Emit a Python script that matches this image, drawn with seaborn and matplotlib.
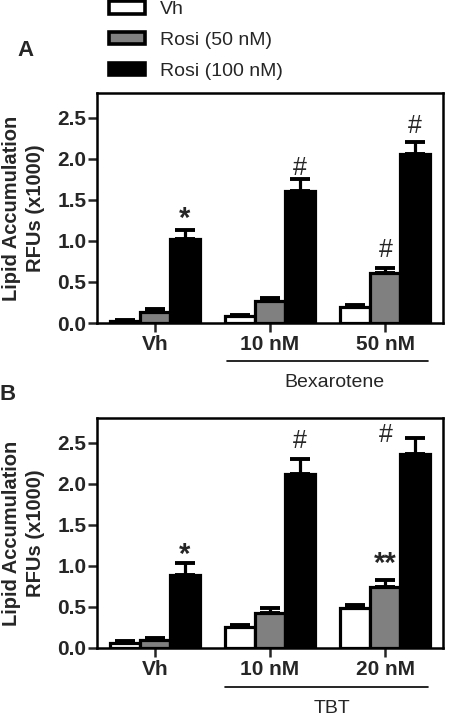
import matplotlib.pyplot as plt
import matplotlib.transforms as mtransforms
import pandas as pd
import seaborn as sns


# Data (RFUs x1000), mean and upper SEM
TREATMENTS = ["Vh", "Rosi (50 nM)", "Rosi (100 nM)"]
COLORS = ["white", "#808080", "black"]

GROUPS_A = ["Vh", "10 nM", "50 nM"]
A_VH = [0.03, 0.08, 0.195]
A_ROSI50 = [0.135, 0.265, 0.61]
A_ROSI100 = [1.02, 1.61, 2.06]
A_VH_ERR = [0.005, 0.02, 0.025]
A_ROSI50_ERR = [0.03, 0.045, 0.06]
A_ROSI100_ERR = [0.11, 0.14, 0.14]

GROUPS_B = ["Vh", "10 nM", "20 nM"]
B_VH = [0.06, 0.255, 0.486]
B_ROSI50 = [0.10, 0.425, 0.74]
B_ROSI100 = [0.89, 2.115, 2.36]
B_VH_ERR = [0.03, 0.02, 0.035]
B_ROSI50_ERR = [0.02, 0.06, 0.09]
B_ROSI100_ERR = [0.14, 0.185, 0.20]

# significance marks: (group index, treatment index, text, baseline y)
MARKS_A = [(0, 2, "*", 1.17), (1, 2, "#", 1.80), (2, 1, "#", 0.80), (2, 2, "#", 2.31)]
MARKS_B = [(0, 2, "*", 1.03), (1, 2, "#", 2.43), (2, 1, "**", 0.92), (2, 1, "#", 2.51)]

YTICKS = [0.0, 0.5, 1.0, 1.5, 2.0, 2.5]
YLABEL = "Lipid Accumulation\nRFUs (x1000)"


sns.set_style("ticks")
plt.rcParams["font.family"] = ["Liberation Sans", "DejaVu Sans"]


def make_frame(groups, series):
    rows = []
    for treat, values in zip(TREATMENTS, series):
        for grp, val in zip(groups, values):
            rows.append({"group": grp, "treatment": treat, "value": val})
    return pd.DataFrame(rows)


def draw_panel(ax, groups, series, errors, marks, drug, line_x, line_y, text_x, show_legend):
    df = make_frame(groups, series)
    sns.barplot(
        data=df,
        x="group",
        y="value",
        hue="treatment",
        order=groups,
        hue_order=TREATMENTS,
        palette=COLORS,
        edgecolor="black",
        linewidth=2.3,
        width=0.78,
        errorbar=None,
        legend=show_legend,
        ax=ax,
        zorder=3,
    )

    # upper error bars only, like the GraphPad original
    centers = []
    for container, errs in zip(ax.containers, errors):
        xs = [b.get_x() + b.get_width() / 2 for b in container]
        hs = [b.get_height() for b in container]
        centers.append(xs)
        ax.errorbar(
            xs, hs, yerr=[[0] * len(errs), errs], fmt="none",
            ecolor="black", elinewidth=2.3, capsize=7, capthick=2.8, zorder=2,
        )

    for g, t, txt, y in marks:
        weight = "bold" if "*" in txt else "normal"
        size = 21 if "*" in txt else 18
        ax.text(centers[t][g], y, txt, ha="center", va="baseline",
                fontsize=size, fontweight=weight, zorder=4)

    ax.set_xlim(-0.5, 2.5)
    ax.set_ylim(0, 2.8)
    ax.set_yticks(YTICKS)
    ax.set_yticklabels([f"{v:.1f}" for v in YTICKS])
    ax.set_xlabel("")
    ax.set_ylabel(YLABEL, fontsize=14.5, fontweight="bold", linespacing=1.35)
    ax.yaxis.set_label_coords(-0.15, 0.5)
    ax.tick_params(axis="both", length=6.5, width=1.8, labelsize=15, direction="out")
    ax.tick_params(axis="y", pad=1)
    ax.tick_params(axis="x", pad=2)
    for lbl in ax.get_xticklabels() + ax.get_yticklabels():
        lbl.set_fontweight("bold")
    for spine in ax.spines.values():
        spine.set_visible(True)
        spine.set_linewidth(1.8)
        spine.set_color("black")

    # bracket under the drug doses
    trans = mtransforms.blended_transform_factory(ax.transData, ax.transAxes)
    ax.plot(line_x, [line_y, line_y], color="black", lw=1.2, transform=trans, clip_on=False)
    ax.text(text_x, line_y - 0.095, drug, transform=trans,
            ha="center", va="center", fontsize=14)


fig = plt.figure(figsize=(4.5, 7.22), dpi=100)
ax_a = fig.add_axes([0.2156, 0.5526, 0.7688, 0.3186])
ax_b = fig.add_axes([0.2156, 0.1025, 0.7688, 0.3186])

draw_panel(ax_a, GROUPS_A, [A_VH, A_ROSI50, A_ROSI100],
           [A_VH_ERR, A_ROSI50_ERR, A_ROSI100_ERR], MARKS_A,
           "Bexarotene", [0.63, 2.37], -0.165, 1.56, True)
draw_panel(ax_b, GROUPS_B, [B_VH, B_ROSI50, B_ROSI100],
           [B_VH_ERR, B_ROSI50_ERR, B_ROSI100_ERR], MARKS_B,
           "TBT", [0.61, 2.37], -0.17, 1.54, False)

handles, labels = ax_a.get_legend_handles_labels()
ax_a.get_legend().remove()
for h in handles:
    h.set_edgecolor("black")
    h.set_linewidth(2.6)
fig.legend(
    handles, labels, loc="upper left", bbox_to_anchor=(109 / 450, 1 - 1 / 722),
    frameon=False, fontsize=14, handlelength=1.85, handleheight=0.62,
    handletextpad=0.75, labelspacing=0.7, borderpad=0, borderaxespad=0,
)

fig.text(25 / 450, 1 - 50 / 722, "A", ha="center", va="center", fontsize=16, fontweight="bold")
fig.text(8 / 450, 1 - 395 / 722, "B", ha="center", va="center", fontsize=16, fontweight="bold")

plt.savefig("out.png", dpi=100)
